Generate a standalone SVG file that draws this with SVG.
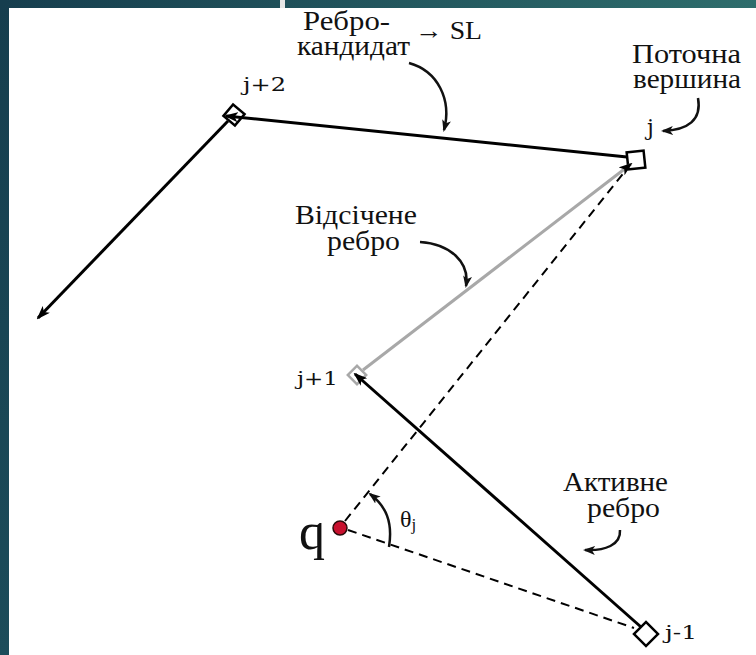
<svg xmlns="http://www.w3.org/2000/svg" width="756" height="655" viewBox="0 0 756 655">
<defs>
<linearGradient id="topbar" x1="0" y1="0" x2="1" y2="0">
<stop offset="0" stop-color="#163e4e"/>
<stop offset="1" stop-color="#2e6d6c"/>
</linearGradient>
<linearGradient id="leftbar" x1="0" y1="0" x2="0" y2="1">
<stop offset="0" stop-color="#163e4e"/>
<stop offset="1" stop-color="#1c4c5a"/>
</linearGradient>
<marker id="ah" viewBox="0 0 14 10" refX="12" refY="5" markerWidth="14" markerHeight="10" markerUnits="userSpaceOnUse" orient="auto">
<path d="M0,0 L14,5 L0,10 L3.5,5 z" fill="#000"/>
</marker>
<marker id="ahs" viewBox="0 0 12 9" refX="10" refY="4.5" markerWidth="12" markerHeight="9" markerUnits="userSpaceOnUse" orient="auto">
<path d="M0,0 L12,4.5 L0,9 L3,4.5 z" fill="#111"/>
</marker>
<style>
.lbl{font-family:"Liberation Serif","DejaVu Serif",serif;font-size:27px;fill:#111}
.nl{font-family:"DejaVu Serif",serif;font-size:18px;fill:#111}
.node{stroke-width:2.5;fill:#fff}
.edge{fill:none;stroke:#000;stroke-width:3}
.dash{fill:none;stroke:#000;stroke-width:2;stroke-dasharray:9 6}
.call{fill:none;stroke:#111;stroke-width:2.5}
</style>
</defs>
<rect x="0" y="0" width="756" height="655" fill="#fff"/>
<rect x="0" y="0" width="756" height="8" fill="url(#topbar)"/>
<rect x="0" y="0" width="9" height="655" fill="url(#leftbar)"/>
<rect x="280" y="0" width="5" height="8" fill="#e6e6e6"/>

<g id="node-j2">
<rect class="node" x="-7.5" y="-7.5" width="15" height="15" stroke="#000" transform="translate(234,115) rotate(40)"/>
<text class="nl" x="243" y="91" textLength="43" lengthAdjust="spacingAndGlyphs">j+2</text>
</g>
<g id="node-j">
<rect class="node" x="-8.5" y="-8.5" width="17" height="17" stroke="#000" transform="translate(636,160) rotate(-6)"/>
<text class="nl" x="647" y="135" style="font-size:22px">j</text>
</g>
<g id="node-j1">
<rect class="node" x="-6.5" y="-6.5" width="13" height="13" stroke="#a8a8a8" transform="translate(357,375) rotate(45)"/>
<text class="nl" x="297" y="385" textLength="41" lengthAdjust="spacingAndGlyphs">j+1</text>
</g>
<g id="node-jm1">
<rect class="node" x="-8.5" y="-8.5" width="17" height="17" stroke="#000" transform="translate(646,634) rotate(45)"/>
<text class="nl" x="665" y="639" textLength="32" lengthAdjust="spacingAndGlyphs">j-1</text>
</g>
<g id="node-q">
<circle cx="340" cy="528" r="7" fill="#c8102e" stroke="#2b0a0a" stroke-width="1.5"/>
<text x="299" y="549" font-family="Liberation Serif, serif" font-size="52" fill="#111">q</text>
</g>

<g id="connectors">
<path class="edge" d="M627,157 L226,116" marker-end="url(#ah)"/>
<path class="edge" d="M228,121 L38,318" marker-end="url(#ah)"/>
<path d="M363,370 L631,164" fill="none" stroke="#a8a8a8" stroke-width="3" marker-end="url(#ah)"/>
<path class="edge" d="M641,627 L355,374" marker-end="url(#ah)"/>
<path class="dash" d="M345,521 L626,170"/>
<path class="dash" d="M348,530 L634,628"/>
<path class="call" d="M389,547 C393,522 386,506 370,494" marker-end="url(#ahs)"/>
<path class="call" d="M409,63 C438,71 452,100 444,130" marker-end="url(#ahs)"/>
<path class="call" d="M698,98 C702,120 688,130 663,131" marker-end="url(#ahs)"/>
<path class="call" d="M420,242 C450,244 470,262 466,286" marker-end="url(#ahs)"/>
<path class="call" d="M620,530 C621,545 605,551 585,550" marker-end="url(#ahs)"/>
</g>

<g id="labels">
<text class="lbl" x="303" y="30" textLength="87" lengthAdjust="spacingAndGlyphs">Ребро-</text>
<text class="lbl" x="297" y="55" textLength="113" lengthAdjust="spacingAndGlyphs">кандидат</text>
<text class="lbl" x="415" y="39" textLength="67" lengthAdjust="spacingAndGlyphs" style="font-size:25px">→ SL</text>
<text class="lbl" x="632" y="63" textLength="109" lengthAdjust="spacingAndGlyphs">Поточна</text>
<text class="lbl" x="633" y="88" textLength="108" lengthAdjust="spacingAndGlyphs">вершина</text>
<text class="lbl" x="295" y="224" textLength="122" lengthAdjust="spacingAndGlyphs">Відсічене</text>
<text class="lbl" x="327" y="250" textLength="73" lengthAdjust="spacingAndGlyphs">ребро</text>
<text class="lbl" x="563" y="491" textLength="105" lengthAdjust="spacingAndGlyphs">Активне</text>
<text class="lbl" x="587" y="517" textLength="73" lengthAdjust="spacingAndGlyphs">ребро</text>
<text class="lbl" x="400" y="527" style="font-size:24px">θ<tspan style="font-size:17px" dy="3">j</tspan></text>
</g>
</svg>
